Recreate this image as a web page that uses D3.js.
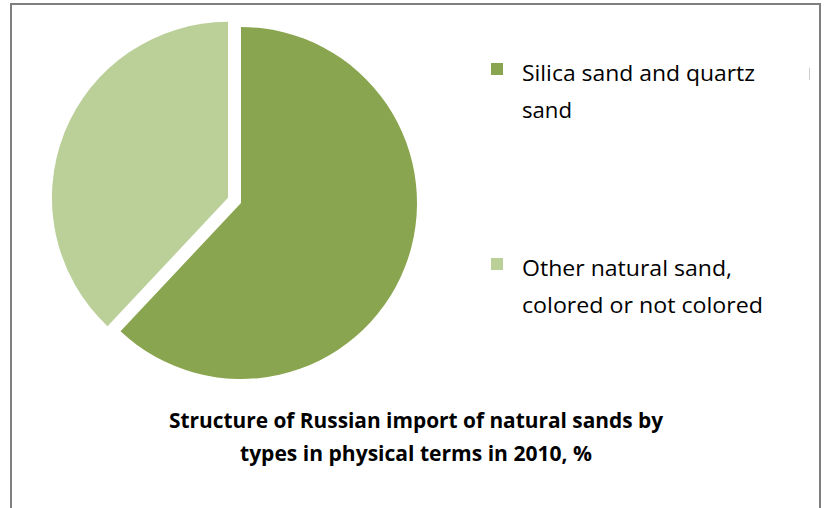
<!DOCTYPE html>
<html><head><meta charset="utf-8">
<script src="https://cdn.jsdelivr.net/npm/d3@7"></script>
<style>html,body{margin:0;padding:0;background:#fff;}svg{display:block;}</style>
</head><body>
<script>
const categories = ["Silica sand and quartz sand", "Other natural sand, colored or not colored"];
const legendLines = [["Silica sand and quartz", "sand"], ["Other natural sand,", "colored or not colored"]];
const legendWidths = [[233, 50], [210, 241]];
const values = [62, 38];
const colors = ["#8aa54f", "#bbcf98"];
const explode = [0, 14];
const titleLines = ["Structure of Russian import of natural sands by", "types in physical terms in 2010, %"];
const titleWidths = [494, 352];

const W = 825, H = 508;
const svg = d3.select("body").append("svg").attr("width", W).attr("height", H);
svg.append("rect").attr("x", 11).attr("y", 4).attr("width", 809).attr("height", 520)
  .attr("fill", "#fff").attr("stroke", "#7f7f7f").attr("stroke-width", 2);

const cx = 241, cy = 203, r = 176;
const pie = d3.pie().sort(null).value(d => d)(values);
const arc = d3.arc().innerRadius(0).outerRadius(r);
const g = svg.append("g").attr("transform", `translate(${cx},${cy})`);
g.selectAll("path").data(pie).enter().append("path")
  .attr("d", arc)
  .attr("fill", (d, i) => colors[i])
  .attr("transform", (d, i) => {
    const a = (d.startAngle + d.endAngle) / 2;
    return `translate(${Math.sin(a) * explode[i]},${-Math.cos(a) * explode[i]})`;
  });

const legY = [81, 276];
const lg = svg.append("g");
categories.forEach((c, i) => {
  lg.append("rect").attr("x", 491).attr("y", legY[i] - 18).attr("width", 12).attr("height", 12).attr("fill", colors[i]);
  legendLines[i].forEach((t, j) => {
    lg.append("text").attr("x", 522).attr("y", legY[i] + j * 37)
      .attr("font-family", "'Open Sans', sans-serif").attr("font-size", 21.5).attr("fill", "#000")
      .attr("textLength", legendWidths[i][j]).attr("lengthAdjust", "spacingAndGlyphs").text(t);
  });
});

svg.append("rect").attr("x", 809).attr("y", 68).attr("width", 1).attr("height", 12).attr("fill", "#cccccc");

titleLines.forEach((t, j) => {
  svg.append("text").attr("x", 416).attr("y", 428 + j * 33).attr("text-anchor", "middle")
    .attr("font-family", "'Open Sans', sans-serif").attr("font-weight", "bold").attr("font-size", 20.5)
    .attr("fill", "#000").attr("textLength", titleWidths[j]).attr("lengthAdjust", "spacingAndGlyphs").text(t);
});
</script>
</body></html>
